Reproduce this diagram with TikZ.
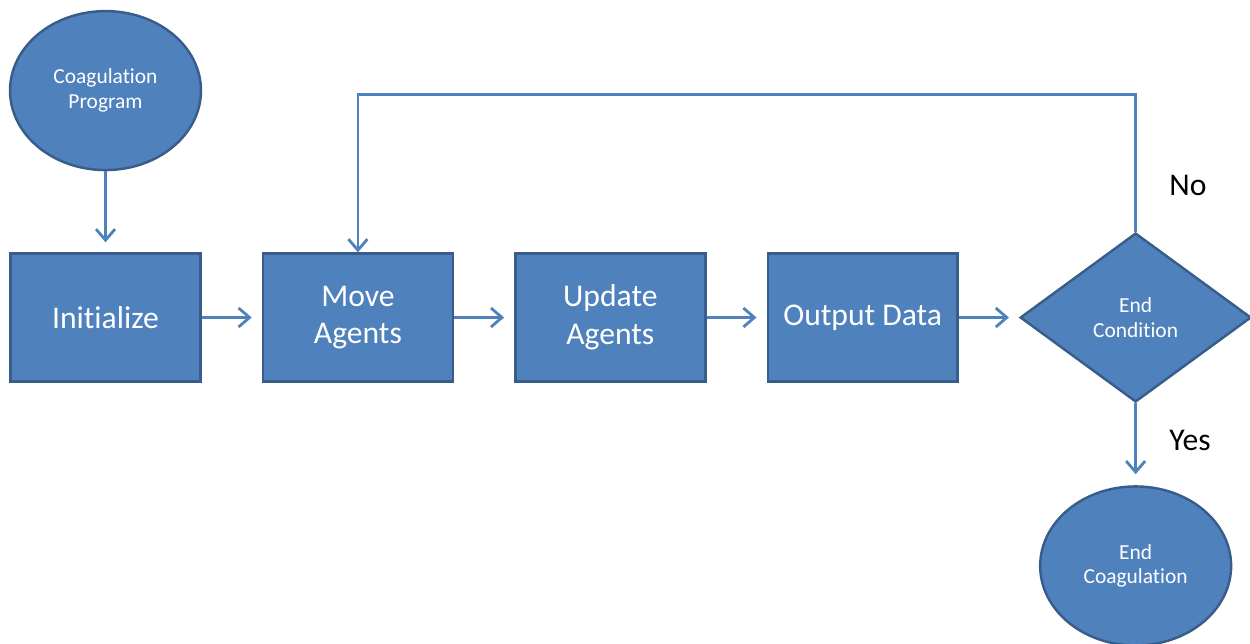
\documentclass[tikz,border=0pt]{standalone}
\usepackage{fontspec}
\setmainfont[Ligatures=NoCommon]{Carlito}
\usepackage{xcolor}
\usepackage{tikz}
\usetikzlibrary{arrows.meta,positioning,shapes.geometric}
\definecolor{boxfill}{HTML}{4F81BD}
\definecolor{boxedge}{HTML}{385D8A}
\definecolor{flow}{HTML}{4F81BD}
\newcommand{\bigtxt}{\fontsize{18}{21.5}\selectfont}
\newcommand{\smalltxt}{\fontsize{12.2}{14.2}\selectfont}
\tikzset{
  blk/.style={draw=boxedge, line width=1.4pt, fill=boxfill, text=white,
              align=center, inner sep=2pt},
  procb/.style={blk, rectangle, minimum width=3.8cm, minimum height=2.56cm,
                font=\bigtxt},
  termb/.style={blk, ellipse, minimum width=3.82cm, minimum height=3.18cm,
                font=\smalltxt},
  decb/.style={blk, diamond, minimum width=4.62cm, minimum height=3.38cm,
               font=\smalltxt},
  ar/.style={-{Straight Barb[length=2.2mm,width=3.8mm]}, line width=1.6pt,
             draw=flow},
  lbl/.style={font=\bigtxt, text=black},
}

\begin{document}
\begin{tikzpicture}[x=0.02cm, y=-0.02cm, node distance=1.2cm]
\useasboundingbox (0,0) rectangle (1250,643);
\clip (0,0) rectangle (1250,643);

% ---- main row ----
\node[procb] (init) at (105.5,317.5) {Initialize};
\node[procb, right=of init] (move) {Move\\Agents};
\node[procb, right=of move] (upd) {Update\\Agents};
\node[procb, right=of upd] (out) {Output Data};
\node[decb, right=of out] (cond) {End\\Condition};

% ---- terminals ----
\node[termb, above=1.62cm of init] (start) {Coagulation\\Program};
\node[termb, below=1.64cm of cond] (stop) {End\\Coagulation};

% ---- labels ----
\node[lbl] (no) at (1188,185) {No};
\node[lbl] (yes) at (1190,440) {Yes};

% ---- edges ----
\draw[ar, shorten >=0.2cm] (start.south) -- (init.north);
\draw[ar, shorten >=0.2cm] (init.east) -- (move.west);
\draw[ar, shorten >=0.2cm] (move.east) -- (upd.west);
\draw[ar, shorten >=0.2cm] (upd.east)  -- (out.west);
\draw[ar, shorten >=0.2cm] (out.east)  -- (cond.west);
\draw[ar, shorten >=0.22cm] (cond.south) -- (stop.north);

% loop back while not done
\draw[ar] (cond.north) -- ++(0,-137) -| (move.north);

\end{tikzpicture}
\end{document}
